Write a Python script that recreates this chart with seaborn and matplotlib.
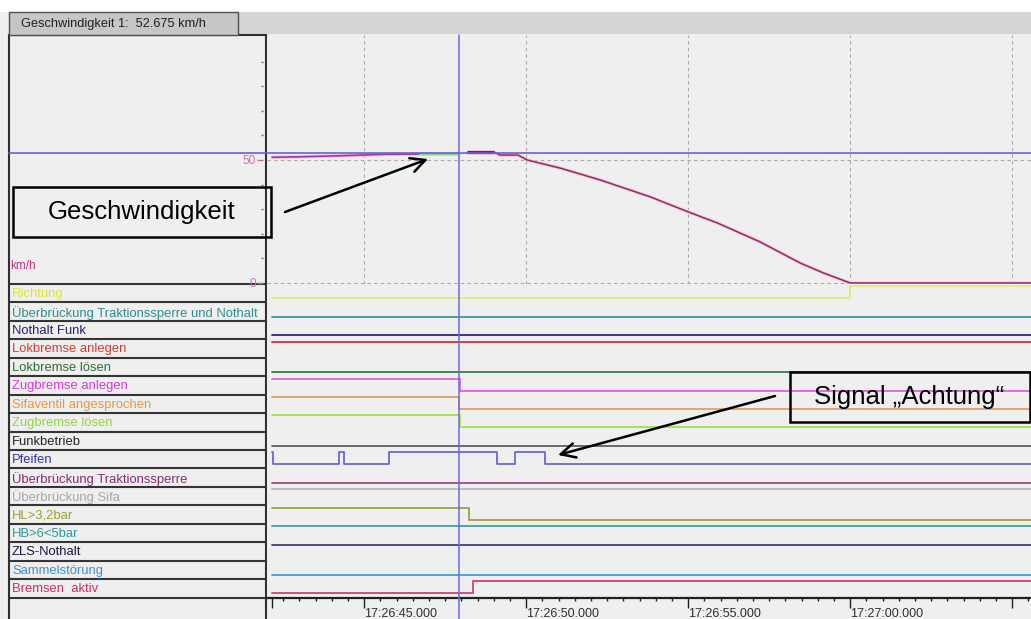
import numpy as np
import pandas as pd
import matplotlib
matplotlib.use("Agg")
import matplotlib.pyplot as plt
import matplotlib.transforms as mtransforms
from matplotlib.patches import Rectangle
from matplotlib.ticker import FixedLocator, FuncFormatter
import seaborn as sns

sns.set_theme(style="white")
plt.rcParams['font.family'] = ['Liberation Sans', 'DejaVu Sans']

W, H = 1031, 619
BG = '#efefef'

# ---------------- data ----------------
# time in seconds after 17:26:00
speed_seg1_t = [42.16, 43.02, 44.20, 45.59, 46.73]
speed_seg1_v = [51.1, 51.3, 51.7, 52.3, 52.4]
speed_seg2_t = [46.73, 47.93]
speed_seg2_v = [52.6, 52.6]
speed_seg3_t = [48.21, 48.98]
speed_seg3_v = [53.3, 53.3]
speed_seg4_t = [48.98, 49.20, 49.75, 50.03, 51.05, 52.28, 53.83, 55.00, 55.90,
                57.22, 58.46, 59.17, 60.00, 65.60]
speed_seg4_v = [53.3, 52.0, 52.0, 50.0, 46.7, 41.9, 35.0, 28.9, 24.4,
                16.7, 8.1, 4.1, 0.0, 0.0]

cursor_time = 47.93
cursor_speed = 52.675

signal_names = ["Richtung", "Überbrückung Traktionssperre und Nothalt", "Nothalt Funk",
                "Lokbremse anlegen", "Lokbremse lösen", "Zugbremse anlegen",
                "Sifaventil angesprochen", "Zugbremse lösen", "Funkbetrieb", "Pfeifen",
                "Überbrückung Traktionssperre", "Überbrückung Sifa", "HL>3,2bar",
                "HB>6<5bar", "ZLS-Nothalt", "Sammelstörung", "Bremsen  aktiv"]
label_colors = ['#e2e23a', '#2a8f8f', '#23236e', '#d23a3a', '#2f6f3a', '#d53ad5',
                '#e09a45', '#8fd83a', '#252525', '#3434b8', '#8a2a70', '#a8a8a8',
                '#a0a030', '#2f9a9a', '#15153f', '#3a90cf', '#d22a68']
line_colors = ['#e8e878', '#3a9a9a', '#2a2a70', '#c83a3a', '#3a7a4a', '#e060e0',
               '#e0a060', '#a0e050', '#606060', '#6a6ad0', '#9a4a8a', '#b8b8b8',
               '#a0a040', '#40a0a0', '#404070', '#40a0d0', '#d04070']

T0, T1 = 42.16, 65.6
richtung_t = [T0, 60.0, T1];                 richtung_s = [0, 1, 1]
ueb_tn_t = [T0, T1];                         ueb_tn_s = [0, 0]
nothalt_funk_t = [T0, T1];                   nothalt_funk_s = [0, 0]
lok_anlegen_t = [T0, T1];                    lok_anlegen_s = [1, 1]
lok_loesen_t = [T0, T1];                     lok_loesen_s = [0, 0]
zug_anlegen_t = [T0, 47.95, T1];             zug_anlegen_s = [1, 0, 0]
sifa_t = [T0, 47.93, T1];                    sifa_s = [1, 0, 0]
zug_loesen_t = [T0, 47.95, T1];              zug_loesen_s = [1, 0, 0]
funk_t = [T0, T1];                           funk_s = [0, 0]
pfeifen_t = [T0, 42.19, 44.23, 44.38, 45.77, 49.10, 49.66, 50.59, T1]
pfeifen_s = [1, 0, 1, 0, 1, 0, 1, 0, 0]
ueb_t_t = [T0, T1];                          ueb_t_s = [0, 0]
ueb_sifa_t = [T0, T1];                       ueb_sifa_s = [1, 1]
hl_t = [T0, 48.24, T1];                      hl_s = [1, 0, 0]
hb_t = [T0, T1];                             hb_s = [1, 1]
zls_t = [T0, T1];                            zls_s = [1, 1]
sammel_t = [T0, T1];                         sammel_s = [0, 0]
bremsen_t = [T0, 48.36, T1];                 bremsen_s = [0, 1, 1]

signal_times = [richtung_t, ueb_tn_t, nothalt_funk_t, lok_anlegen_t, lok_loesen_t,
                zug_anlegen_t, sifa_t, zug_loesen_t, funk_t, pfeifen_t, ueb_t_t,
                ueb_sifa_t, hl_t, hb_t, zls_t, sammel_t, bremsen_t]
signal_states = [richtung_s, ueb_tn_s, nothalt_funk_s, lok_anlegen_s, lok_loesen_s,
                 zug_anlegen_s, sifa_s, zug_loesen_s, funk_s, pfeifen_s, ueb_t_s,
                 ueb_sifa_s, hl_s, hb_s, zls_s, sammel_s, bremsen_s]

x_major = [42.16, 45, 50, 55, 60, 65]
x_labels = ['', '17:26:45.000', '17:26:50.000', '17:26:55.000', '17:27:00.000', '']

# ---------------- layout helpers ----------------
def fx(px):
    return px / W

def fy(py):
    return 1 - py / H

fig = plt.figure(figsize=(W / 100, H / 100), dpi=100, facecolor=BG)

PL, PR = 267, 1031
SP_TOP, SP_BOT = 35, 284
SIG_BOT = 597.5
XLIM = (42.0, 65.58)

# left label panel (pixel coordinates)
ax_left = fig.add_axes([fx(9), fy(619), fx(266) - fx(9), (619 - 35) / H])
ax_left.set_xlim(9, 266)
ax_left.set_ylim(619, 35)
ax_left.set_facecolor(BG)
ax_left.set_xticks([]); ax_left.set_yticks([])
for s in ['left', 'right', 'top']:
    ax_left.spines[s].set_visible(True)
    ax_left.spines[s].set_color('#303030')
    ax_left.spines[s].set_linewidth(1.5)
ax_left.spines['bottom'].set_visible(False)

# speed axes
ax_speed = fig.add_axes([fx(PL), fy(SP_BOT), fx(PR) - fx(PL), (SP_BOT - SP_TOP) / H])
ax_speed.set_facecolor(BG)
ax_speed.set_xlim(*XLIM)
ax_speed.set_ylim(-0.41, 100.8)

# signal axes
ax_sig = fig.add_axes([fx(PL), fy(SIG_BOT), fx(PR) - fx(PL), (SIG_BOT - SP_BOT) / H])
ax_sig.set_facecolor(BG)
ax_sig.set_xlim(*XLIM)
ax_sig.set_ylim(17, 0)

# ---------------- speed plot ----------------
seg_specs = [(speed_seg1_t, speed_seg1_v, '#a03a9a', 1.2),
             (speed_seg2_t, speed_seg2_v, '#86d886', 1.6),
             (speed_seg3_t, speed_seg3_v, '#7a1a60', 2.2),
             (speed_seg4_t, speed_seg4_v, '#952a62', 1.1)]
for t, v, c, lw in seg_specs:
    sns.lineplot(x=t, y=v, ax=ax_speed, color='#f6c0da', lw=lw + 1.2,
                 estimator=None, sort=False, zorder=3)
    sns.lineplot(x=t, y=v, ax=ax_speed, color=c, lw=lw,
                 estimator=None, sort=False, zorder=4)

ax_speed.xaxis.set_major_locator(FixedLocator([45, 50, 55, 60, 65]))
ax_speed.yaxis.set_major_locator(FixedLocator([0, 50]))
ax_speed.yaxis.set_minor_locator(FixedLocator([10, 20, 30, 40, 60, 70, 80, 90]))
ax_speed.grid(True, which='major', axis='both', color='#a8a8a8', lw=0.8,
              ls=(0, (3, 3)))
ax_speed.set_xlabel(''); ax_speed.set_ylabel('')
ax_speed.tick_params(axis='x', which='both', length=0, labelbottom=False)
ax_speed.tick_params(axis='y', which='major', left=True, length=4, width=1,
                     color='#c070a0', labelcolor='#d070b0', labelsize=8.5, pad=1)
ax_speed.tick_params(axis='y', which='minor', left=True, length=1.6, width=1,
                     color='#707070')
ax_speed.spines['left'].set_position(('outward', 3))
for s in ax_speed.spines.values():
    s.set_visible(False)

# ---------------- signal plot ----------------
HIGH, LOW = 0.13, 0.78
for i, (t, st) in enumerate(zip(signal_times, signal_states)):
    yv = [i + (HIGH if s else LOW) for s in st]
    sns.lineplot(x=t, y=yv, ax=ax_sig, color=line_colors[i], lw=1.3,
                 drawstyle='steps-post', estimator=None, sort=False)

ax_sig.set_xlabel(''); ax_sig.set_ylabel('')
ax_sig.set_yticks([])
ax_sig.xaxis.set_major_locator(FixedLocator(x_major))
ax_sig.xaxis.set_major_formatter(FuncFormatter(lambda v, p: x_labels[p] if p is not None and p < len(x_labels) else ''))
ax_sig.xaxis.set_minor_locator(FixedLocator(list(np.arange(42.5, 65.6, 0.5))))
ax_sig.tick_params(axis='x', which='major', bottom=True, direction='out', length=7,
                   width=1, color='#202020', labelsize=9, labelcolor='#303030', pad=0.5)
ax_sig.tick_params(axis='x', which='minor', bottom=True, direction='out', length=2.2,
                   width=1, color='#202020')
for s in ['left', 'right', 'top']:
    ax_sig.spines[s].set_visible(False)
ax_sig.spines['bottom'].set_color('#202020')
ax_sig.spines['bottom'].set_linewidth(1.6)
for lbl in ax_sig.get_xticklabels():
    lbl.set_horizontalalignment('left')

# ---------------- left panel contents ----------------
row_h = (SIG_BOT - SP_BOT) / 17
bounds = [SP_BOT + k * row_h for k in range(18)]
ax_left.hlines(bounds, 9, 266, color='#353535', lw=1.5)
for i, name in enumerate(signal_names):
    ax_left.text(12, SP_BOT + (i + 0.55) * row_h, name, color=label_colors[i],
                 fontsize=9.4, va='center', ha='left')
ax_left.text(10, 266, 'km/h', color='#c03080', fontsize=8.5, va='center', ha='left')

# ---------------- overlay (cursor, tab, annotations) ----------------
ov = fig.add_axes([0, 0, 1, 1], zorder=10)
ov.set_xlim(0, W); ov.set_ylim(H, 0)
ov.axis('off')
ov.patch.set_alpha(0)

# top white strip & tab bar
ov.add_patch(Rectangle((0, 0), W, 12, fc='white', ec='none'))
ov.add_patch(Rectangle((238, 12), W - 238, 22, fc='#d4d4d4', ec='none'))
ov.add_patch(Rectangle((9, 12), 229, 22.5, fc='#c6c6c6', ec='#505050', lw=1))
ov.text(21, 23.5, 'Geschwindigkeit 1:  52.675 km/h', fontsize=9.2, color='#202020',
        va='center', ha='left')

# cursor lines
tr_h = mtransforms.blended_transform_factory(fig.transFigure, ax_speed.transData)
ov.plot([fx(9), 1.0], [cursor_speed, cursor_speed], transform=tr_h,
        color='#6464d8', lw=1.2, zorder=1)
tr_v = mtransforms.blended_transform_factory(ax_sig.transData, fig.transFigure)
ov.plot([cursor_time, cursor_time], [0, fy(35)], transform=tr_v,
        color='#6a6ae0', lw=1.1, zorder=1)

# annotations
ov.add_patch(Rectangle((13, 187), 258, 50, fill=False, ec='black', lw=1.8, zorder=5))
ov.text(142, 212, 'Geschwindigkeit', fontsize=18.5, color='black',
        ha='center', va='center', zorder=5)
ov.annotate('', xy=(428, 159), xytext=(285, 212),
            arrowprops=dict(arrowstyle='->', lw=1.8, color='black',
                            mutation_scale=26, shrinkA=0, shrinkB=0), zorder=5)
ov.add_patch(Rectangle((790, 372), 240, 50, fill=False, ec='black', lw=1.8, zorder=5))
ov.text(909, 397, 'Signal \u201eAchtung\u201c', fontsize=18.5, color='black',
        ha='center', va='center', zorder=5)
ov.annotate('', xy=(558, 455), xytext=(775, 396),
            arrowprops=dict(arrowstyle='->', lw=1.8, color='black',
                            mutation_scale=26, shrinkA=0, shrinkB=0), zorder=5)

fig.savefig('out.png', dpi=100, facecolor=BG)
